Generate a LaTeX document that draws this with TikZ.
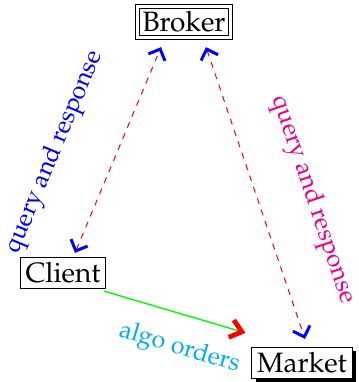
\documentclass[tikz,border=0pt]{standalone}
\usepackage[T1]{fontenc}
\usepackage{mathpazo}
\usepackage{tikz}
\usetikzlibrary{arrows.meta, positioning, calc, shadows}
\definecolor{QueryBlue}{RGB}{0, 0, 255}
\definecolor{QueryPink}{HTML}{EC008C}
\definecolor{OrderCyan}{HTML}{00AEEF}
\definecolor{OrderGreen}{RGB}{0, 255, 0}
\definecolor{LinkRed}{RGB}{255, 0, 0}

\tikzset{
    agent/.style={draw, line width=0.5pt, inner sep=2.6pt, font=\fontsize{14}{16}\selectfont},
    qlink/.style={color=LinkRed, dashed, line width=0.5pt,
        {Straight Barb[color=QueryBlue, length=4.5pt, width=9pt, line width=1.5pt]}-{Straight Barb[color=QueryBlue, length=4.5pt, width=9pt, line width=1.5pt]}},
    olink/.style={color=OrderGreen, line width=0.7pt,
        -{Straight Barb[color=LinkRed, length=5.5pt, width=9pt, line width=2.4pt]}},
    lbl/.style={font=\fontsize{12.5}{15}\selectfont, sloped}
}

\begin{document}
\begin{tikzpicture}[x=0.5pt, y=-0.5pt]
        % Frame of the whole drawing
        \useasboundingbox (0, 0) rectangle (359, 382);

        % The three parties
        \node[agent, double, double distance=1.4pt] (broker) at (184, 22) {Broker};
        \node[agent] (client) at (63, 273) {Client};
        \node[agent, fill=white, drop shadow={opacity=1, fill=black, shadow xshift=2pt, shadow yshift=-2pt}] (market) at (302, 363) {Market};

        % Client <-> Broker
        \draw[qlink] ([xshift=6pt, yshift=2pt]client.north) -- ([xshift=-11.5pt, yshift=-4.5pt]broker.south)
            node[lbl, pos=0.38, above=19pt, color=QueryBlue] {query and response};

        % Broker <-> Market
        \draw[qlink] ([xshift=11pt, yshift=-4.5pt]broker.south) -- ([xshift=1.5pt, yshift=4pt]market.north)
            node[lbl, pos=0.58, above=16pt, color=QueryPink] {query and response};

        % Client -> Market
        \draw[olink] ([xshift=-1pt, yshift=-1pt]client.south east) -- ([xshift=-3pt, yshift=7pt]market.north west)
            node[lbl, pos=0.6, below=7pt, color=OrderCyan] {algo orders};
\end{tikzpicture}
\end{document}
